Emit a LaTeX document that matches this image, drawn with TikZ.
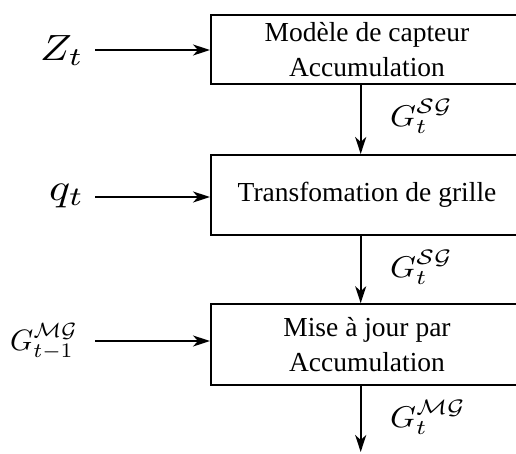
\documentclass[tikz,border=0pt]{standalone}
\usepackage{graphicx}
\usepackage{fontspec}
\setmainfont{Liberation Serif}
\usetikzlibrary{arrows.meta}
\tikzset{
  box/.style={draw, line width=2pt, anchor=west, minimum width=312pt, inner sep=0pt,
    align=center, font=\fontsize{27.5}{34.5}\selectfont},
  conn/.style={line width=2pt, -{Stealth[length=17pt,width=11pt,inset=5pt]}},
  lbl/.style={anchor=base west, inner sep=0pt},
}
\begin{document}
\begin{tikzpicture}[x=1pt,y=-1pt]
\useasboundingbox (0,0) rectangle (516,453);
\clip (0,0) rectangle (516,453);
\node[box, minimum height=69pt] (b1) at (210,49.5) {Modèle de capteur\\Accumulation};
\node[box, minimum height=80pt] (b2) at (210,195) {Transfomation de grille};
\node[box, minimum height=81pt] (b3) at (210,344.7) {Mise à jour par\\Accumulation};
\coordinate (X) at (360.7,0);
\coordinate (out) at (360.7,452);
\coordinate (s1) at (95,50);
\coordinate (s2) at (95,197);
\coordinate (s3) at (95,341);
\node[lbl] (z) at (40,60) {\scalebox{4.2}[3.65]{$Z_t$}};
\node[lbl] (q) at (49,200) {\scalebox{4.4}[3.8]{$q_t$}};
\node[lbl] (gm) at (10,350) {\scalebox{2.95}[2.95]{$G^{\mathcal{MG}}_{t-1}$}};
\node[lbl] (g1) at (390,126) {\scalebox{3.3}[3.0]{$G^{\mathcal{SG}}_{t}$}};
\node[lbl] (g2) at (390,277) {\scalebox{3.3}[3.0]{$G^{\mathcal{SG}}_{t}$}};
\node[lbl] (g3) at (390,427) {\scalebox{3.3}[3.0]{$G^{\mathcal{MG}}_{t}$}};
\draw[conn] (s1) -- (s1 -| b1.west);
\draw[conn] (s2) -- (s2 -| b2.west);
\draw[conn] (s3) -- (s3 -| b3.west);
\draw[conn] (b1.south -| X) -- (b2.north -| X);
\draw[conn] (b2.south -| X) -- (b3.north -| X);
\draw[conn] (b3.south -| X) -- (out);
\end{tikzpicture}
\end{document}
